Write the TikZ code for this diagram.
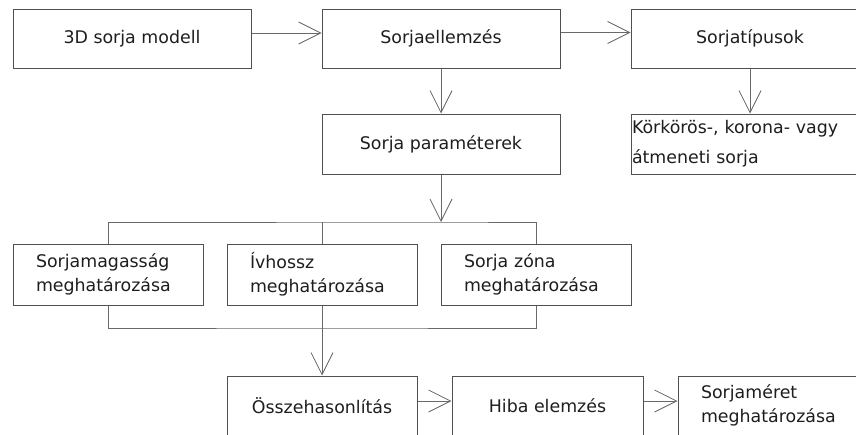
\documentclass[tikz,border=0pt]{standalone}
\usepackage{fontspec}
\setmainfont{DejaVu Sans}
\usetikzlibrary{arrows.meta}
\definecolor{boxcol}{RGB}{80,80,80}
\definecolor{linecol}{RGB}{105,105,105}
\definecolor{txtcol}{RGB}{30,30,30}
\begin{document}
\begin{tikzpicture}[x=1pt,y=-1pt,
  box/.style={draw=boxcol, line width=1pt, inner sep=0pt, text=txtcol,
    font=\fontsize{17.4}{24}\selectfont},
  twoline/.style={box, align=left, inner xsep=#1, text width=160pt},
  conn/.style={draw=linecol, line width=1pt},
  arr/.style={conn, -{Straight Barb[length=22pt,width=22pt,line width=0.8pt]}}]
\useasboundingbox (0,0) rectangle (856,434);
\clip (0,0) rectangle (856,434);
% row 1
\node[box, minimum width=238pt, minimum height=59pt] (A) at (132,38.5) {3D sorja modell};
\node[box, minimum width=238pt, minimum height=59pt] (B) at (441,38.5) {Sorjaellemzés};
\node[box, minimum width=238pt, minimum height=59pt] (C) at (750,38.5) {Sorjatípusok};
% row 2
\node[box, minimum width=238pt, minimum height=60pt] (D) at (441,144) {Sorja paraméterek};
\node[box, minimum width=238pt, minimum height=60pt, align=left, text width=236pt, inner xsep=1pt,
  font=\fontsize{17.4}{30}\selectfont] (E) at (750,144) {Körkörös-, korona- vagy\\átmeneti sorja};
% row 3
\node[box, minimum width=190pt, minimum height=61pt, align=left, text width=144pt, inner xsep=23pt] (F) at (108,274.5) {Sorjamagasság\\meghatározása};
\node[box, minimum width=190pt, minimum height=61pt, align=left, text width=144pt, inner xsep=23pt] (G) at (322,274.5) {Ívhossz\\meghatározása};
\node[box, minimum width=190pt, minimum height=61pt, align=left, text width=144pt, inner xsep=23pt] (H) at (536,274.5) {Sorja zóna\\meghatározása};
% row 4
\node[box, minimum width=190pt, minimum height=59pt] (I) at (322,405.5) {Összehasonlítás};
\node[box, minimum width=191pt, minimum height=59pt] (J) at (547.5,405.5) {Hiba elemzés};
\node[box, minimum width=191pt, minimum height=59pt, align=left, text width=145pt, inner xsep=23pt] (K) at (773.5,405.5) {Sorjaméret\\meghatározása};
% connectors
\draw[arr] ([yshift=5.5pt]A.east) -- ([yshift=5.5pt]B.west);
\draw[arr] ([yshift=6pt]B.east) -- ([yshift=6pt]C.west);
\draw[arr] (B.south) -- (D.north);
\draw[arr] (C.south) -- (E.north);
\coordinate (tb) at (441,222);
\coordinate (bb) at (322,328);
\draw[arr] (D.south) -- (tb);
\draw[conn] (F.north) |- (tb) -| (H.north);
\draw[conn] (G.north) -- (G.north |- tb);
\draw[conn] (F.south) |- (bb) -| (H.south);
\draw[conn] (G.south) -- (bb);
\draw[arr] (bb) -- (I.north);
\draw[arr] ([yshift=4.5pt]I.east) -- ([yshift=4.5pt]J.west);
\draw[arr] ([yshift=4.5pt]J.east) -- ([yshift=4.5pt]K.west);
\end{tikzpicture}
\end{document}
